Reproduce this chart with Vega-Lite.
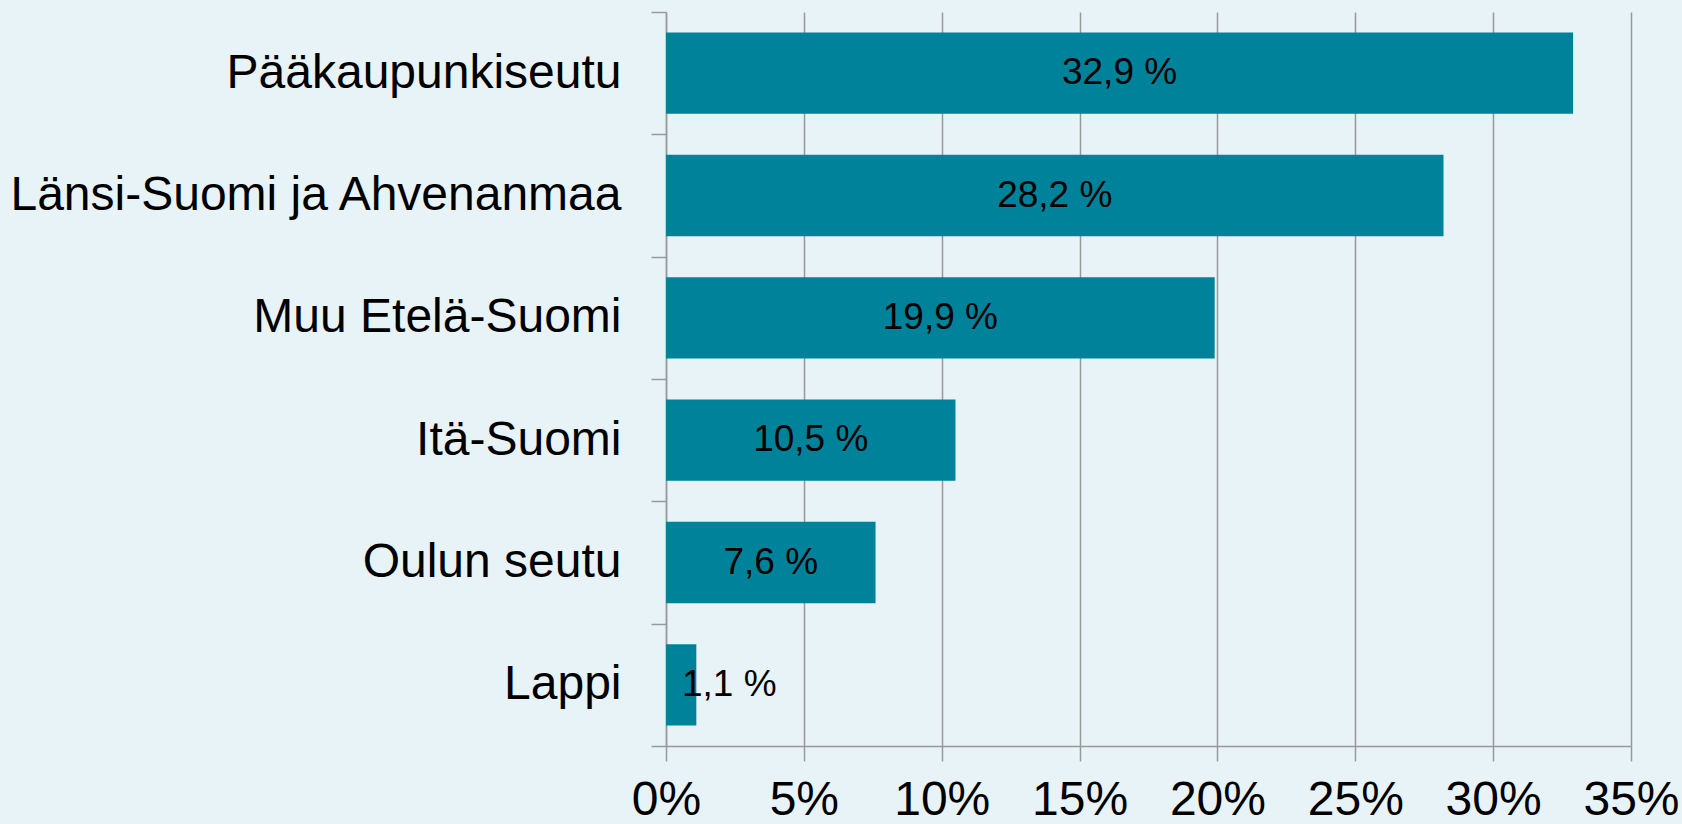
{
  "$schema": "https://vega.github.io/schema/vega-lite/v6.json",
  "autosize": {"type": "none"},
  "padding": {"left": 666, "top": 12, "right": 51, "bottom": 78},
  "width": 965,
  "height": 734,
  "background": "#E8F3F8",
  "config": {
    "font": "Liberation Sans",
    "view": {"stroke": null, "fill": "#E8F3F8"}
  },
  "data": {
    "values": [
      {"region": "Pääkaupunkiseutu", "value": 32.9},
      {"region": "Länsi-Suomi ja Ahvenanmaa", "value": 28.2},
      {"region": "Muu Etelä-Suomi", "value": 19.9},
      {"region": "Itä-Suomi", "value": 10.5},
      {"region": "Oulun seutu", "value": 7.6},
      {"region": "Lappi", "value": 1.1}
    ]
  },
  "transform": [
    {"calculate": "datum.value / 2", "as": "mid"},
    {"calculate": "replace(format(datum.value, '.1f'), '.', ',') + ' %'", "as": "label"}
  ],
  "encoding": {
    "y": {
      "field": "region",
      "type": "nominal",
      "sort": null,
      "scale": {"paddingInner": 0, "paddingOuter": 0},
      "axis": {
        "title": null,
        "tickBand": "extent",
        "tickSize": 15,
        "tickColor": "#999999",
        "tickWidth": 1.5,
        "domainColor": "#999999",
        "domainWidth": 1.5,
        "labelFontSize": 48,
        "labelColor": "#000000",
        "labelPadding": 30,
        "labelLimit": 700
      }
    }
  },
  "layer": [
    {
      "mark": {"type": "bar", "color": "#00829A", "height": {"band": 0.665}},
      "encoding": {
        "x": {
          "field": "value",
          "type": "quantitative",
          "scale": {"domain": [0, 35], "nice": false},
          "axis": {
            "title": null,
            "values": [0, 5, 10, 15, 20, 25, 30, 35],
            "labelExpr": "datum.value + '%'",
            "grid": true,
            "gridColor": "#999999",
            "gridWidth": 1.5,
            "tickSize": 15,
            "tickColor": "#999999",
            "tickWidth": 1.5,
            "domainColor": "#999999",
            "domainWidth": 1.5,
            "labelFontSize": 48,
            "labelColor": "#000000",
            "labelPadding": 15,
            "labelFlush": false
          }
        }
      }
    },
    {
      "transform": [{"filter": "datum.value >= 3"}],
      "mark": {"type": "text", "fontSize": 37, "color": "#000000", "align": "center", "baseline": "middle"},
      "encoding": {
        "x": {"field": "mid", "type": "quantitative"},
        "text": {"field": "label"}
      }
    },
    {
      "transform": [{"filter": "datum.value < 3"}],
      "mark": {"type": "text", "fontSize": 37, "color": "#000000", "align": "left", "baseline": "middle", "dx": 16},
      "encoding": {
        "x": {"datum": 0, "type": "quantitative"},
        "text": {"field": "label"}
      }
    }
  ]
}
